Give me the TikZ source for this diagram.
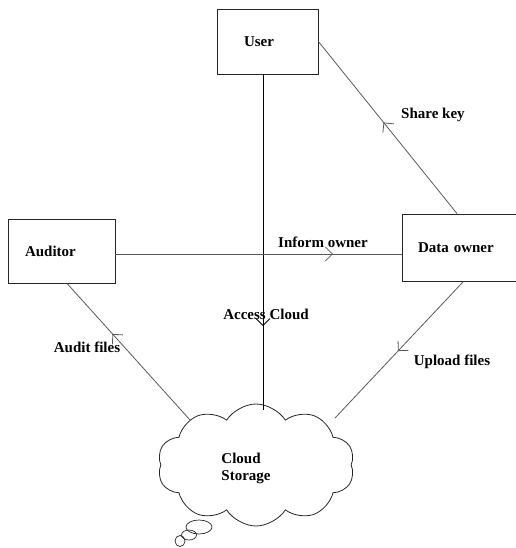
\documentclass[tikz,border=0pt]{standalone}
\usepackage{fontspec}
\setmainfont{Liberation Serif}
\usetikzlibrary{shapes.symbols,shapes.geometric,arrows.meta,decorations.markings}
\tikzset{
  box/.style={draw=black!85, line width=0.8pt, minimum height=#1, align=left,
    font=\fontsize{15}{17}\selectfont\bfseries},
  lbl/.style={font=\fontsize{15}{17}\selectfont\bfseries, inner sep=0pt},
  conn/.style={draw=black!65, line width=0.8pt},
  bubble/.style={draw=black!85, line width=0.7pt, ellipse, inner sep=0pt},
  midarrow/.style={postaction={decorate}, decoration={markings,
    mark=at position #1 with {\arrow{Straight Barb[length=7pt,width=14pt,line width=0.8pt]}}}}
}
\begin{document}
\begin{tikzpicture}[x=1pt,y=-1pt]
\useasboundingbox (0,0) rectangle (515,548);
% boxes
\node[box=65pt, text width=47pt, inner xsep=27pt] (user) at (267.5,41.5) {User};
\node[box=64pt, text width=73pt, inner xsep=17pt] (auditor) at (61.5,251) {Auditor};
\node[box=67pt, text width=91pt, inner xsep=16pt] (owner) at (463.5,247.5) {Data owner};
% cloud
\node[cloud, draw=black!85, line width=0.8pt, cloud puffs=10, cloud puff arc=115,
      minimum width=197pt, minimum height=122pt, inner sep=0pt] (cloud) at (256,465) {};
\node[bubble, minimum width=26pt, minimum height=14pt] (b1) at (199,527) {};
\node[bubble, minimum width=15pt, minimum height=10pt] (b2) at (189,535) {};
\node[bubble, minimum width=10pt, minimum height=11pt] (b3) at (180,541) {};
\node[lbl, align=left] (ctext) at (246,468) {Cloud\\Storage};
% contact points on cloud
\coordinate (cTop) at (263,410);
\coordinate (cRight) at (335,418);
\coordinate (cLeft) at (190,420);
% connectors
\draw[line width=0.8pt, black, midarrow=0.75] ([xshift=-4.5pt]user.south) -- (cTop);
\draw[conn, midarrow=0.76] ([yshift=-3pt]auditor.east) -- ([yshift=-3pt]auditor.east -| owner.west);
\draw[conn, midarrow=0.53] ([xshift=-6.5pt]owner.north) -- (user.east);
\draw[conn, midarrow=0.51] (owner.south) -- (cRight);
\draw[conn, midarrow=0.63] (cLeft) -- ([xshift=5.5pt]auditor.south);
% labels
\node[lbl, anchor=west] (lshare) at (401,115) {Share key};
\node[lbl] (linform) at (323,242) {Inform owner};
\node[lbl] (laccess) at (266,314) {Access Cloud};
\node[lbl] (laudit) at (87,347) {Audit files};
\node[lbl] (lupload) at (452,362) {Upload files};
\end{tikzpicture}
\end{document}
